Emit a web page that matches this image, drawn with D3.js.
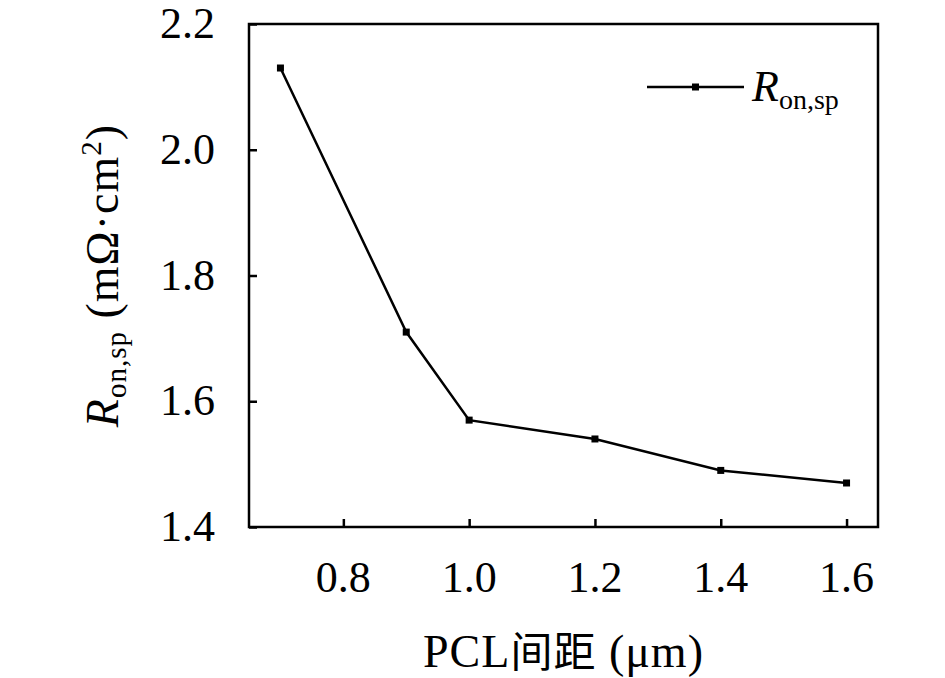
<!DOCTYPE html>
<html lang="zh">
<head>
<meta charset="utf-8">
<title>Ron,sp vs PCL</title>
<script src="https://cdn.jsdelivr.net/npm/d3@7"></script>
<style>
  body { margin: 0; background: #fff; }
  text { font-family: "Liberation Serif", "DejaVu Serif", serif; fill: #000; }
</style>
</head>
<body>
<script>
// data
var spacing = [0.7, 0.9, 1.0, 1.2, 1.4, 1.6];
var ron = [2.13, 1.71, 1.57, 1.54, 1.49, 1.47];
var xTicks = [0.8, 1.0, 1.2, 1.4, 1.6];
var yTicks = [1.4, 1.6, 1.8, 2.0, 2.2];

var w = 945, h = 678;
var pLeft = 249, pRight = 878, pTop = 24, pBottom = 527;

var svg = d3.select("body").append("svg")
    .attr("width", w)
    .attr("height", h);

var x = d3.scaleLinear().domain([0.65, 1.65]).range([pLeft, pRight]);
var y = d3.scaleLinear().domain([1.4, 2.2]).range([pBottom, pTop]);

// frame
svg.append("rect")
    .attr("x", pLeft).attr("y", pTop)
    .attr("width", pRight - pLeft).attr("height", pBottom - pTop)
    .attr("fill", "none").attr("stroke", "#000").attr("stroke-width", 2.5);

// axes, ticks pointing inward
var xAxis = svg.append("g")
    .attr("transform", "translate(0," + pBottom + ")")
    .call(d3.axisTop(x).tickValues(xTicks).tickSize(8).tickFormat(""));
var yAxis = svg.append("g")
    .attr("transform", "translate(" + pLeft + ",0)")
    .call(d3.axisRight(y).tickValues(yTicks).tickSize(8).tickFormat(""));
[xAxis, yAxis].forEach(function (g) {
    g.select(".domain").remove();
    g.selectAll("line").attr("stroke", "#000").attr("stroke-width", 2.5);
});

// tick labels
svg.selectAll(".xlab").data(xTicks).enter().append("text")
    .attr("x", function (d) { return x(d); })
    .attr("y", pBottom + 65)
    .attr("text-anchor", "middle")
    .attr("font-size", 44)
    .text(function (d) { return d.toFixed(1); });

svg.selectAll(".ylab").data(yTicks).enter().append("text")
    .attr("x", pLeft - 34)
    .attr("y", function (d) { return y(d) + 14; })
    .attr("text-anchor", "end")
    .attr("font-size", 44)
    .text(function (d) { return d.toFixed(1); });

// line + markers
var pts = spacing.map(function (d, i) { return [d, ron[i]]; });
svg.append("path")
    .datum(pts)
    .attr("fill", "none")
    .attr("stroke", "#000")
    .attr("stroke-width", 2.5)
    .attr("d", d3.line()
        .x(function (d) { return x(d[0]); })
        .y(function (d) { return y(d[1]); }));

svg.selectAll(".pt").data(pts).enter().append("rect")
    .attr("x", function (d) { return x(d[0]) - 3.5; })
    .attr("y", function (d) { return y(d[1]) - 3.5; })
    .attr("width", 7).attr("height", 7)
    .attr("fill", "#000");

// legend
svg.append("line")
    .attr("x1", 647).attr("x2", 744).attr("y1", 87).attr("y2", 87)
    .attr("stroke", "#000").attr("stroke-width", 2.5);
svg.append("rect")
    .attr("x", 692).attr("y", 83.5).attr("width", 7).attr("height", 7)
    .attr("fill", "#000");
var lg = svg.append("text").attr("x", 752).attr("y", 101).attr("font-size", 44);
lg.append("tspan").attr("font-style", "italic").text("R");
lg.append("tspan").attr("font-size", 28).attr("dy", 8).text("on,sp");

// axis titles
var xt = svg.append("text")
    .attr("x", (pLeft + pRight) / 2)
    .attr("y", 667)
    .attr("text-anchor", "middle")
    .attr("font-size", 46)
    .attr("letter-spacing", 1);
xt.append("tspan").text("PCL");
xt.append("tspan").attr("font-family", "'Noto Sans CJK SC'").attr("font-size", 42).text("间距");
xt.append("tspan").text(" (μm)");

var yt = svg.append("text")
    .attr("transform", "translate(118," + ((pTop + pBottom) / 2) + ") rotate(-90)")
    .attr("text-anchor", "middle")
    .attr("font-size", 46)
    .attr("letter-spacing", 1);
yt.append("tspan").attr("font-style", "italic").text("R");
yt.append("tspan").attr("font-size", 29).attr("dy", 8).text("on,sp");
yt.append("tspan").attr("dy", -8).text(" (mΩ·cm");
yt.append("tspan").attr("font-size", 29).attr("dy", -17).text("2");
yt.append("tspan").attr("dy", 17).text(")");
</script>
</body>
</html>
